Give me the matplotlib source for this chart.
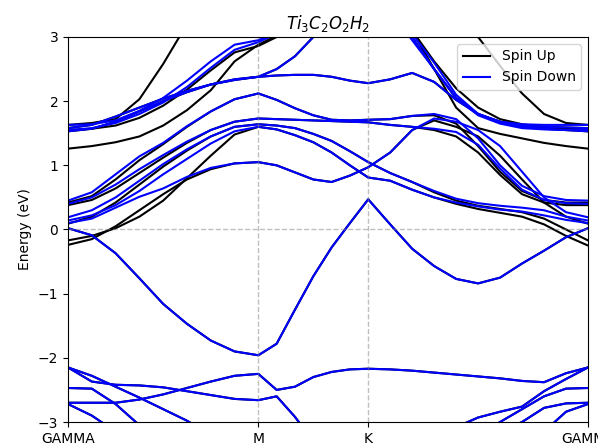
import numpy as np
import matplotlib
matplotlib.use("Agg")
import matplotlib.pyplot as plt

# High-symmetry path of the hexagonal Brillouin zone
labels = ["GAMMA", "M", "K", "GAMMA"]
seg_len = [0.5774, 0.3333, 0.6667]      # |GM|, |MK|, |KG| (relative units)
seg_steps = [8, 6, 10]

k = [0.0]
start = 0.0
for L, n in zip(seg_len, seg_steps):
    k.extend(list(start + L * np.arange(1, n + 1) / n))
    start += L
k = np.array(k)
k_nodes = [0.0, seg_len[0], seg_len[0] + seg_len[1], sum(seg_len)]

# ---- band energies (eV) along G-M | M-K | K-G ----
# shared by both spin channels
disp = [0.02, -0.09, -0.37, -0.76, -1.16, -1.47, -1.73, -1.90, -1.96,
        -1.78, -1.25, -0.73, -0.28, 0.1, 0.47,
        0.08, -0.3, -0.57, -0.77, -0.84, -0.75, -0.53, -0.33, -0.12, 0.02]
flat_b = [1.58, 1.63, 1.76, 1.9, 2.04, 2.16, 2.26, 2.34, 2.38,
          2.4, 2.41, 2.41, 2.38, 2.32, 2.28,
          2.34, 2.44, 2.3, 2.02, 1.8, 1.68, 1.62, 1.6, 1.59, 1.58]
band_c = [1.53, 1.57, 1.68, 1.84, 2.0, 2.14, 2.26, 2.33, 2.38,
          2.5, 2.7, 3.0, 3.3, 3.6, 3.8,
          3.5, 3.0, 2.5, 2.05, 1.8, 1.67, 1.6, 1.57, 1.55, 1.53]
low_a = [-2.15, -2.28, -2.45, -2.62, -2.8, -2.98, -3.2, -3.4, -3.55,
         -3.6, -3.65, -3.7, -3.7, -3.7, -3.7,
         -3.65, -3.6, -3.55, -3.5, -3.45, -3.4, -3.3, -3.15, -2.84, -2.72]
low_b = [-2.15, -2.37, -2.42, -2.43, -2.46, -2.52, -2.58, -2.64, -2.66,
         -2.6, -2.92, -3.3, -3.5, -3.6, -3.65,
         -3.6, -3.5, -3.4, -3.08, -2.93, -2.84, -2.76, -2.52, -2.33, -2.15]
low_c = [-2.47, -2.48, -2.72, -3.05, -3.3, -3.5, -3.65, -3.75, -3.8,
         -3.8, -3.8, -3.8, -3.8, -3.75, -3.7,
         -3.65, -3.55, -3.45, -3.35, -3.2, -3.0, -2.8, -2.6, -2.48, -2.47]
low_d = [-2.70, -2.70, -2.70, -2.65, -2.57, -2.47, -2.37, -2.28, -2.25,
         -2.5, -2.45, -2.3, -2.22, -2.18, -2.17,
         -2.18, -2.2, -2.23, -2.26, -2.29, -2.32, -2.36, -2.38, -2.24, -2.15]
low_e = [-2.72, -2.9, -3.15, -3.35, -3.5, -3.6, -3.7, -3.75, -3.8,
         -3.8, -3.8, -3.8, -3.8, -3.8, -3.75,
         -3.7, -3.6, -3.5, -3.4, -3.3, -3.15, -3.0, -2.78, -2.71, -2.70]

# spin up only
up_steep = [1.63, 1.66, 1.72, 2.03, 2.58, 3.2, 3.7, 4.1, 4.3,
            4.4, 4.5, 4.55, 4.6, 4.6, 4.6,
            4.4, 4.05, 3.7, 3.35, 3.0, 2.55, 2.12, 1.8, 1.66, 1.63]
up_d = [1.26, 1.3, 1.36, 1.45, 1.62, 1.86, 2.17, 2.62, 2.88,
        3.02, 3.35, 3.6, 3.8, 3.9, 3.95,
        3.6, 3.1, 2.5, 1.9, 1.58, 1.49, 1.42, 1.35, 1.3, 1.26]
up_e = [1.55, 1.57, 1.62, 1.74, 1.93, 2.18, 2.48, 2.76, 2.86,
        3.0, 3.3, 3.55, 3.75, 3.85, 3.9,
        3.55, 3.1, 2.62, 2.2, 1.9, 1.72, 1.64, 1.6, 1.57, 1.55]
up_l1 = [0.42, 0.52, 0.78, 1.08, 1.33, 1.6, 1.84, 2.03, 2.12,
         2.02, 1.89, 1.78, 1.71, 1.7, 1.71,
         1.72, 1.77, 1.78, 1.65, 1.3, 0.9, 0.6, 0.46, 0.42, 0.42]
up_l2 = [0.38, 0.46, 0.64, 0.88, 1.12, 1.35, 1.55, 1.68, 1.73,
         1.72, 1.71, 1.70, 1.69, 1.68, 1.67,
         1.63, 1.6, 1.55, 1.45, 1.2, 0.85, 0.55, 0.42, 0.38, 0.38]
up_l3 = [0.09, 0.2, 0.42, 0.7, 0.98, 1.23, 1.45, 1.6, 1.64,
         1.62, 1.58, 1.49, 1.38, 1.22, 1.05,
         0.88, 0.74, 0.58, 0.45, 0.37, 0.32, 0.27, 0.17, 0.0, -0.17]
up_l4 = [-0.17, -0.1, 0.02, 0.2, 0.45, 0.8, 1.15, 1.48, 1.60,
         1.56, 1.47, 1.36, 1.2, 1.0, 0.81,
         0.76, 0.62, 0.5, 0.4, 0.32, 0.26, 0.2, 0.08, -0.1, -0.25]
up_l5 = [-0.24, -0.15, 0.05, 0.3, 0.55, 0.78, 0.94, 1.03, 1.05,
         1.0, 0.89, 0.78, 0.74, 0.84, 0.97,
         1.2, 1.55, 1.7, 1.6, 1.45, 1.15, 0.78, 0.42, 0.2, 0.09]

# spin down only
dn_d = [1.63, 1.64, 1.7, 1.85, 2.05, 2.32, 2.62, 2.88, 2.95,
        3.08, 3.4, 3.65, 3.85, 3.95, 4.0,
        3.45, 3.05, 2.6, 2.1, 1.8, 1.68, 1.64, 1.63, 1.63, 1.63]
dn_e = [1.55, 1.58, 1.66, 1.8, 1.98, 2.22, 2.52, 2.8, 2.92,
        3.05, 3.35, 3.6, 3.8, 3.9, 3.95,
        3.4, 2.95, 2.5, 2.05, 1.78, 1.65, 1.58, 1.56, 1.55, 1.55]
dn_l1 = [0.45, 0.58, 0.86, 1.14, 1.35, 1.61, 1.84, 2.03, 2.12,
         2.02, 1.89, 1.78, 1.71, 1.7, 1.71,
         1.72, 1.77, 1.8, 1.72, 1.42, 1.0, 0.68, 0.52, 0.46, 0.45]
dn_l2 = [0.40, 0.50, 0.70, 0.94, 1.16, 1.37, 1.55, 1.68, 1.73,
         1.72, 1.71, 1.70, 1.69, 1.68, 1.67,
         1.63, 1.6, 1.57, 1.52, 1.32, 0.95, 0.62, 0.46, 0.41, 0.40]
dn_l3 = [0.19, 0.3, 0.5, 0.76, 1.02, 1.25, 1.45, 1.6, 1.64,
         1.62, 1.58, 1.49, 1.38, 1.22, 1.05,
         0.88, 0.74, 0.6, 0.48, 0.41, 0.37, 0.34, 0.3, 0.2, 0.14]
dn_l4 = [0.14, 0.22, 0.38, 0.6, 0.86, 1.1, 1.34, 1.53, 1.60,
         1.56, 1.47, 1.36, 1.2, 1.0, 0.81,
         0.76, 0.62, 0.5, 0.42, 0.36, 0.31, 0.28, 0.22, 0.15, 0.10]
dn_l5 = [0.10, 0.17, 0.34, 0.51, 0.64, 0.82, 0.96, 1.03, 1.05,
         1.0, 0.89, 0.78, 0.74, 0.84, 0.97,
         1.2, 1.55, 1.73, 1.68, 1.55, 1.3, 0.9, 0.5, 0.27, 0.19]

spin_up = [disp, up_steep, flat_b, band_c, up_d, up_e,
           up_l1, up_l2, up_l3, up_l4, up_l5,
           low_a, low_b, low_c, low_d, low_e]
spin_down = [disp, flat_b, band_c, dn_d, dn_e,
             dn_l1, dn_l2, dn_l3, dn_l4, dn_l5,
             low_a, low_b, low_c, low_d, low_e]

fig = plt.figure(figsize=(5.98, 4.46), dpi=100)
ax = fig.add_axes([68 / 598, 24 / 446, 520 / 598, 385 / 446])

for i, band in enumerate(spin_up):
    ax.plot(k, band, color="black", lw=1.5,
            label="Spin Up" if i == 0 else None)
for i, band in enumerate(spin_down):
    ax.plot(k, band, color="blue", lw=1.5,
            label="Spin Down" if i == 0 else None)

for x in k_nodes[1:-1]:
    ax.axvline(x, color="gray", ls="--", lw=1, alpha=0.5)
ax.axhline(0, color="gray", ls="--", lw=1, alpha=0.5)

ax.set_xlim(k_nodes[0], k_nodes[-1])
ax.set_ylim(-3, 3)
ax.set_xticks(k_nodes)
ax.set_xticklabels(labels)
ax.set_ylabel("Energy (eV)")
ax.set_title(r"$Ti_3C_2O_2H_2$")
ax.legend(loc="upper right")

fig.savefig("out.png", dpi=100)
